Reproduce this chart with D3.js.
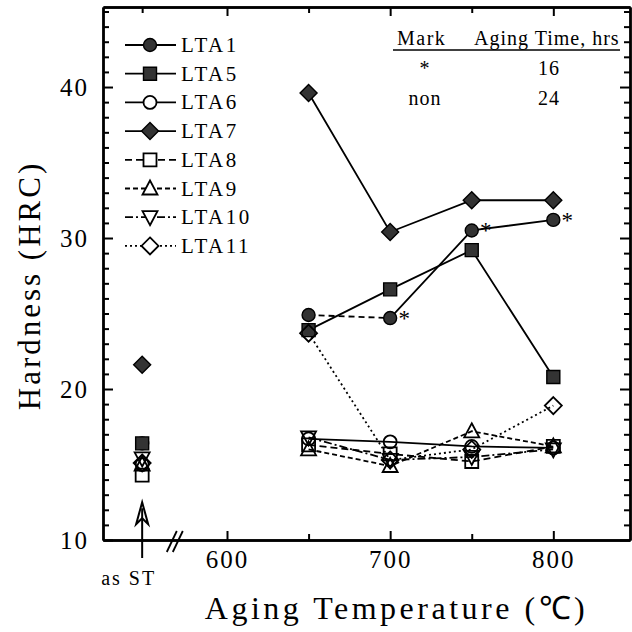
<!DOCTYPE html>
<html>
<head>
<meta charset="utf-8">
<script src="https://cdn.jsdelivr.net/npm/d3@7"></script>
<style>
  body { margin: 0; background: #fff; }
  svg { display: block; font-family: "Liberation Serif", "Times New Roman", serif; }
</style>
</head>
<body>
<div id="chart"></div>
<script>
// aging temperatures (deg C) and hardness values
const temps = [650, 700, 750, 800];
const alloys = ["LTA1", "LTA5", "LTA6", "LTA7", "LTA8", "LTA9", "LTA10", "LTA11"];
const lta1 = [24.9, 24.7, 30.5, 31.2];
const lta5 = [23.9, 26.6, 29.2, 20.8];
const lta6 = [16.7, 16.5, 16.2, 16.1];
const lta7 = [39.6, 30.4, 32.5, 32.5];
const lta8 = [16.3, 15.7, 15.2, 16.2];
const lta9 = [16.0, 14.9, 17.2, 16.2];
const lta10 = [16.8, 15.3, 15.5, 16.0];
const lta11 = [23.7, 15.3, 16.0, 18.9];
// solution treated ("as ST") hardness, same order as alloys
const asStHardness = [16.4, 16.4, 15.0, 21.6, 14.3, 15.0, 15.4, 15.1];
// LTA1 points aged 16 hrs (marked *), the rest 24 hrs
const lta1Aged16 = [false, true, true, true];

const xTicks = [600, 700, 800];
const xMinorTicks = [650, 750];
const yTicks = [10, 20, 30, 40];
const asStTemp = 548;   // where the as ST column sits on the temperature axis
const breakTemp = 568;  // axis break mark
const tableHead = ["Mark", "Aging Time, hrs"];
const tableRows = [["*", "16"], ["non", "24"]];

const values = [lta1, lta5, lta6, lta7, lta8, lta9, lta10, lta11];

let width = 632, height = 632;
let margin = { top: 7, bottom: 92, left: 103, right: 2 };

// shape + line style per alloy
const styles = {
  LTA1: { shape: "circle", filled: true, dash: null },
  LTA5: { shape: "square", filled: true, dash: null },
  LTA6: { shape: "circle", filled: false, dash: null },
  LTA7: { shape: "diamond", filled: true, dash: null },
  LTA8: { shape: "square", filled: false, dash: "7,4" },
  LTA9: { shape: "triUp", filled: false, dash: "5,3" },
  LTA10: { shape: "triDown", filled: false, dash: "8,3,2,3" },
  LTA11: { shape: "diamond", filled: false, dash: "2,3" }
};

function markerPath(shape) {
  if (shape === "circle") {
    const r = 6.5;
    return `M${-r},0A${r},${r} 0 1,0 ${r},0A${r},${r} 0 1,0 ${-r},0Z`;
  }
  if (shape === "square") return "M-6.5,-6.5H6.5V6.5H-6.5Z";
  if (shape === "diamond") return "M0,-8.5L8.5,0L0,8.5L-8.5,0Z";
  if (shape === "triUp") return "M0,-8L7.5,6L-7.5,6Z";
  return "M0,8L7.5,-6L-7.5,-6Z";
}

let svg = d3.select('#chart')
  .append('svg')
  .attr('width', width)
  .attr('height', height);

let xScale = d3.scaleLinear()
  .domain([524, 847])
  .range([margin.left, width - margin.right]);

let yScale = d3.scaleLinear()
  .domain([10, 45.3])
  .range([height - margin.bottom, margin.top]);

const x0 = margin.left, x1 = width - margin.right;
const y0 = height - margin.bottom, y1 = margin.top;

const yMinor = d3.range(11, 46).filter(v => v % 10 !== 0);

// ---- axes (ticks point inward on every side)
function styleAxis(g) {
  g.select('.domain').attr('stroke-width', 2.4);
  g.selectAll('.tick line').attr('stroke-width', 2);
  g.selectAll('.tick text')
    .attr('font-family', '"Liberation Serif", serif')
    .attr('font-size', 25)
    .attr('letter-spacing', 2)
    .attr('fill', '#000');
}

svg.append('g')
  .attr('transform', `translate(0, ${y0})`)
  .call(d3.axisBottom(xScale).tickValues(xTicks).tickSizeInner(-9).tickSizeOuter(0).tickPadding(10).tickFormat(d3.format('d')))
  .call(styleAxis);
svg.append('g')
  .attr('transform', `translate(0, ${y0})`)
  .call(d3.axisBottom(xScale).tickValues(xMinorTicks).tickSizeInner(-6).tickSizeOuter(0).tickFormat(''))
  .call(styleAxis);

svg.append('g')
  .attr('transform', `translate(0, ${y1})`)
  .call(d3.axisTop(xScale).tickValues(xTicks).tickSizeInner(-9).tickSizeOuter(0).tickFormat(''))
  .call(styleAxis);
svg.append('g')
  .attr('transform', `translate(0, ${y1})`)
  .call(d3.axisTop(xScale).tickValues(xMinorTicks.concat([asStTemp])).tickSizeInner(-6).tickSizeOuter(0).tickFormat(''))
  .call(styleAxis);

svg.append('g')
  .attr('transform', `translate(${x0}, 0)`)
  .call(d3.axisLeft(yScale).tickValues(yTicks).tickSizeInner(-10).tickSizeOuter(0).tickPadding(14))
  .call(styleAxis);
svg.append('g')
  .attr('transform', `translate(${x0}, 0)`)
  .call(d3.axisLeft(yScale).tickValues(yMinor).tickSizeInner(-6).tickSizeOuter(0).tickFormat(''))
  .call(styleAxis);

svg.append('g')
  .attr('transform', `translate(${x1}, 0)`)
  .call(d3.axisRight(yScale).tickValues(yTicks).tickSizeInner(-10).tickSizeOuter(0).tickFormat(''))
  .call(styleAxis);
svg.append('g')
  .attr('transform', `translate(${x1}, 0)`)
  .call(d3.axisRight(yScale).tickValues(yMinor).tickSizeInner(-6).tickSizeOuter(0).tickFormat(''))
  .call(styleAxis);

// axis break //
const bx = xScale(breakTemp);
[-3, 3].forEach(off => {
  svg.append('line')
    .attr('x1', bx + off - 5).attr('y1', y0 + 12)
    .attr('x2', bx + off + 5).attr('y2', y0 - 9)
    .attr('stroke', '#000').attr('stroke-width', 1.8);
});

// as ST arrow
const ax = xScale(asStTemp);
const tipY = yScale(12.5);
svg.append('line')
  .attr('x1', ax).attr('x2', ax)
  .attr('y1', y0 + 18).attr('y2', tipY + 6)
  .attr('stroke', '#000').attr('stroke-width', 2);
svg.append('path')
  .attr('d', `M${ax},${tipY}L${ax + 6},${tipY + 22}L${ax},${tipY + 16}L${ax - 6},${tipY + 22}Z`)
  .attr('fill', 'none').attr('stroke', '#000').attr('stroke-width', 2);

svg.append('text')
  .attr('x', ax - 41).attr('y', y0 + 45)
  .attr('font-size', 20).attr('letter-spacing', 2)
  .text('as ST');

// axis titles
svg.append('text')
  .attr('x', (x0 + x1) / 2 + 30).attr('y', height - 13)
  .attr('text-anchor', 'middle')
  .attr('font-size', 32).attr('letter-spacing', 3.5)
  .text('Aging Temperature (\u2103)');

svg.append('text')
  .attr('transform', `translate(40, ${(y0 + y1) / 2 + 12}) rotate(-90)`)
  .attr('text-anchor', 'middle')
  .attr('font-size', 31).attr('letter-spacing', 3)
  .text('Hardness (HRC)');

// ---- series lines
let line = d3.line()
  .x(d => xScale(d[0]))
  .y(d => yScale(d[1]));

alloys.forEach((name, i) => {
  const pts = temps.map((t, j) => [t, values[i][j]]);
  const st = styles[name];
  if (name === "LTA1") {
    // the 24 h point at 650 is joined to the 16 h set by a dashed segment
    svg.append('path').attr('d', line(pts.slice(0, 2)))
      .attr('fill', 'none').attr('stroke', '#000').attr('stroke-width', 1.8)
      .attr('stroke-dasharray', '6,4');
    svg.append('path').attr('d', line(pts.slice(1)))
      .attr('fill', 'none').attr('stroke', '#000').attr('stroke-width', 1.8);
  } else {
    svg.append('path').attr('d', line(pts))
      .attr('fill', 'none').attr('stroke', '#000').attr('stroke-width', 1.8)
      .attr('stroke-dasharray', st.dash);
  }
});

// ---- markers
alloys.forEach((name, i) => {
  const st = styles[name];
  const pts = [[asStTemp, asStHardness[i]]].concat(temps.map((t, j) => [t, values[i][j]]));
  svg.selectAll(null)
    .data(pts)
    .enter()
    .append('path')
    .attr('transform', d => `translate(${xScale(d[0])},${yScale(d[1])})`)
    .attr('d', markerPath(st.shape))
    .attr('fill', st.filled ? '#333' : 'none')
    .attr('stroke', '#000')
    .attr('stroke-width', st.filled ? 1.4 : 1.8);
});

// asterisks for 16 h aging
svg.selectAll(null)
  .data(temps.map((t, j) => [t, lta1[j], lta1Aged16[j]]).filter(d => d[2]))
  .enter()
  .append('text')
  .attr('x', d => xScale(d[0]) + 14)
  .attr('y', d => yScale(d[1]) + 8)
  .attr('text-anchor', 'middle')
  .attr('font-size', 23)
  .text('*');

// ---- legend
const legend = svg.append('g');
alloys.forEach((name, i) => {
  const st = styles[name];
  const ly = 45 + i * 28.7;
  legend.append('line')
    .attr('x1', 125).attr('x2', 176).attr('y1', ly).attr('y2', ly)
    .attr('stroke', '#000').attr('stroke-width', 1.8)
    .attr('stroke-dasharray', st.dash);
  legend.append('path')
    .attr('transform', `translate(150,${ly})`)
    .attr('d', markerPath(st.shape))
    .attr('fill', st.filled ? '#333' : '#fff')
    .attr('stroke', '#000')
    .attr('stroke-width', st.filled ? 1.4 : 1.8);
  legend.append('text')
    .attr('x', 181).attr('y', ly + 7)
    .attr('font-size', 21).attr('letter-spacing', 2.5)
    .text(name);
});

// ---- aging time table
const table = svg.append('g').attr('font-size', 20);
table.append('text').attr('x', 397).attr('y', 45).attr('letter-spacing', 1.5).text(tableHead[0]);
table.append('text').attr('x', 474).attr('y', 45).attr('letter-spacing', 1).text(tableHead[1]);
table.append('line')
  .attr('x1', 393).attr('x2', 620).attr('y1', 50).attr('y2', 50)
  .attr('stroke', '#000').attr('stroke-width', 1.3);
tableRows.forEach((row, i) => {
  const ty = 75 + i * 30;
  table.append('text').attr('x', 425).attr('y', ty).attr('text-anchor', 'middle').attr('letter-spacing', 1).text(row[0]);
  table.append('text').attr('x', 549).attr('y', ty).attr('text-anchor', 'middle').attr('letter-spacing', 1).text(row[1]);
});
</script>
</body>
</html>
